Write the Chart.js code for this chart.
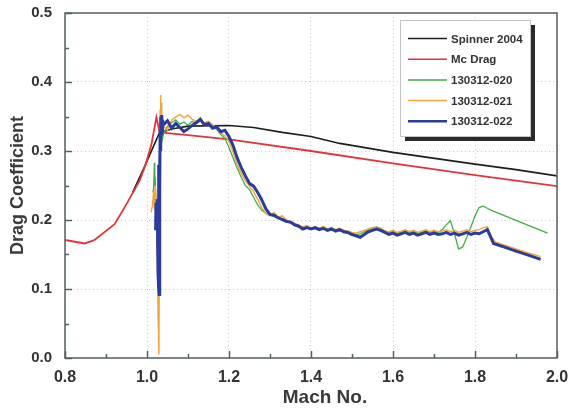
<!DOCTYPE html>
<html>
<head>
<meta charset="utf-8">
<script src="https://cdn.jsdelivr.net/npm/chart.js@4.4.0/dist/chart.umd.min.js"></script>
<style>
  html, body { margin: 0; padding: 0; background: #fff; }
  #myChart { display: block; }
</style>
</head>
<body>
<canvas id="myChart" width="581" height="410"></canvas>
<script>
// axis ticks
const machTicks = [0.8, 1.0, 1.2, 1.4, 1.6, 1.8, 2.0];
const cdTicks = [0.0, 0.1, 0.2, 0.3, 0.4, 0.5];

// reference curves
const spinnerMach = [0.965, 0.99, 1.03, 1.06, 1.1, 1.2, 1.26, 1.33, 1.4, 1.47, 1.6, 1.74, 1.8, 1.9, 2.0];
const spinnerCd   = [0.240, 0.272, 0.326, 0.332, 0.336, 0.337, 0.334, 0.327, 0.321, 0.311, 0.298, 0.286, 0.281, 0.273, 0.264];

const mcdragMach = [0.8, 0.848, 0.872, 0.921, 0.95, 0.982, 0.997, 1.011, 1.023, 1.031, 1.1, 1.2, 1.4, 1.6, 1.8, 2.0];
const mcdragCd   = [0.171, 0.166, 0.171, 0.194, 0.223, 0.257, 0.281, 0.310, 0.349, 0.327, 0.323, 0.317, 0.300, 0.282, 0.265, 0.249];

// common mach grid for the measured runs (1.04 .. 1.84)
const machGrid = [
  1.04, 1.05, 1.06, 1.07, 1.08, 1.09, 1.10, 1.11, 1.12, 1.13,
  1.14, 1.15, 1.16, 1.17, 1.18, 1.19, 1.20, 1.21, 1.22, 1.23,
  1.24, 1.25, 1.26, 1.27, 1.28, 1.29, 1.30, 1.31, 1.32, 1.33,
  1.34, 1.35, 1.36, 1.37, 1.38, 1.39, 1.40, 1.41, 1.42, 1.43,
  1.44, 1.45, 1.46, 1.47, 1.48, 1.49, 1.50, 1.51, 1.52, 1.53,
  1.54, 1.55, 1.56, 1.57, 1.58, 1.59, 1.60, 1.61, 1.62, 1.63,
  1.64, 1.65, 1.66, 1.67, 1.68, 1.69, 1.70, 1.71, 1.72, 1.73,
  1.74, 1.75, 1.76, 1.77, 1.78, 1.79, 1.80, 1.81, 1.82, 1.83,
  1.84
];

// 130312-020
const run020HeadMach = [1.014, 1.016, 1.018, 1.019, 1.020, 1.022, 1.024, 1.027, 1.030, 1.033, 1.036, 1.038];
const run020HeadCd   = [0.240, 0.245, 0.283, 0.250, 0.262, 0.210, 0.190, 0.220, 0.290, 0.310, 0.330, 0.318];
const run020Cd = [
  0.325, 0.336, 0.341, 0.345, 0.339, 0.342, 0.337, 0.343, 0.340, 0.344,
  0.340, 0.338, 0.336, 0.331, 0.324, 0.318, 0.305, 0.290, 0.275, 0.262,
  0.250, 0.244, 0.233, 0.222, 0.214, 0.210, 0.207, 0.205, 0.203, 0.199,
  0.197, 0.196, 0.194, 0.191, 0.190, 0.188, 0.189, 0.187, 0.188, 0.186,
  0.187, 0.185, 0.186, 0.184, 0.185, 0.182, 0.180, 0.179, 0.180, 0.183,
  0.186, 0.188, 0.190, 0.188, 0.184, 0.182, 0.183, 0.181, 0.182, 0.184,
  0.181, 0.183, 0.181, 0.182, 0.184, 0.182, 0.183, 0.182, 0.186, 0.193,
  0.199, 0.180, 0.158, 0.161, 0.175, 0.190, 0.206, 0.218, 0.220, 0.217,
  0.214
];
const run020TailMach = [1.977];
const run020TailCd   = [0.181];

// 130312-021
const run021HeadMach = [1.010, 1.013, 1.016, 1.018, 1.020, 1.022, 1.025, 1.027, 1.029, 1.030, 1.031, 1.032, 1.033, 1.034, 1.035, 1.036, 1.038];
const run021HeadCd   = [0.211, 0.220, 0.240, 0.215, 0.250, 0.230, 0.180, 0.060, 0.005, 0.120, 0.300, 0.360, 0.381, 0.335, 0.370, 0.325, 0.340];
const run021Cd = [
  0.336, 0.330, 0.345, 0.349, 0.353, 0.348, 0.352, 0.346, 0.343, 0.345,
  0.341, 0.343, 0.338, 0.334, 0.326, 0.322, 0.314, 0.298, 0.280, 0.268,
  0.257, 0.249, 0.241, 0.230, 0.218, 0.209, 0.206, 0.211, 0.204, 0.206,
  0.200, 0.198, 0.195, 0.193, 0.190, 0.192, 0.188, 0.190, 0.188, 0.191,
  0.187, 0.189, 0.186, 0.188, 0.185, 0.184, 0.182, 0.181, 0.183, 0.185,
  0.187, 0.189, 0.190, 0.188, 0.184, 0.183, 0.185, 0.182, 0.184, 0.186,
  0.183, 0.185, 0.182, 0.184, 0.186, 0.183, 0.185, 0.183, 0.184, 0.186,
  0.183, 0.185, 0.182, 0.184, 0.186, 0.183, 0.185, 0.186, 0.189, 0.190,
  0.176
];
const run021TailMach = [1.85, 1.88, 1.92, 1.96];
const run021TailCd   = [0.168, 0.162, 0.154, 0.147];

// 130312-022
const run022HeadMach = [1.021, 1.022, 1.023, 1.025, 1.026, 1.027, 1.028, 1.029, 1.030, 1.031, 1.032, 1.033, 1.034, 1.035, 1.036, 1.037, 1.038];
const run022HeadCd   = [0.185, 0.225, 0.190, 0.230, 0.160, 0.120, 0.280, 0.100, 0.092, 0.240, 0.330, 0.300, 0.350, 0.325, 0.352, 0.330, 0.345];
const run022Cd = [
  0.338, 0.344, 0.333, 0.340, 0.334, 0.328, 0.332, 0.337, 0.341, 0.346,
  0.338, 0.340, 0.333, 0.335, 0.328, 0.330, 0.321, 0.308, 0.290, 0.276,
  0.264, 0.253, 0.249, 0.240, 0.229, 0.216, 0.208, 0.207, 0.203, 0.201,
  0.198, 0.197, 0.193, 0.191, 0.187, 0.189, 0.187, 0.189, 0.186, 0.188,
  0.185, 0.187, 0.184, 0.186, 0.183, 0.182, 0.179, 0.177, 0.175, 0.179,
  0.183, 0.185, 0.187, 0.185, 0.182, 0.179, 0.181, 0.178, 0.180, 0.182,
  0.179, 0.181, 0.178, 0.180, 0.182, 0.179, 0.181, 0.179, 0.180, 0.182,
  0.179, 0.181, 0.178, 0.180, 0.182, 0.179, 0.181, 0.180, 0.183, 0.186,
  0.173
];
const run022TailMach = [1.845, 1.87, 1.90, 1.93, 1.96];
const run022TailCd   = [0.166, 0.161, 0.155, 0.149, 0.143];

function pts(xs, ys) {
  return xs.map((x, i) => ({ x: x, y: ys[i] }));
}
function run(headX, headY, gridY, tailX, tailY) {
  return pts(headX, headY).concat(pts(machGrid, gridY), pts(tailX, tailY));
}

const FONT = "'Liberation Sans', Arial, Helvetica, sans-serif";
const AXIS = '#545f63';

// ticks pointing into the plot + frame + legend box + x title
const decor = {
  id: 'decor',
  afterDraw(chart) {
    const ctx = chart.ctx;
    const a = chart.chartArea;
    const xs = chart.scales.x, ys = chart.scales.y;
    ctx.save();
    ctx.strokeStyle = AXIS;
    ctx.lineWidth = 1.5;
    // minor/major ticks
    for (let v = 0.8; v <= 2.0001; v += 0.1) {
      const px = Math.round(xs.getPixelForValue(v)) + 0.5;
      const major = Math.abs(Math.round(v * 5) - v * 5) < 1e-6;
      ctx.beginPath();
      ctx.moveTo(px, a.bottom);
      ctx.lineTo(px, a.bottom - (major ? 7 : 4));
      ctx.stroke();
    }
    for (let v = 0; v <= 0.5001; v += 0.05) {
      const py = Math.round(ys.getPixelForValue(v)) + 0.5;
      const major = Math.abs(Math.round(v * 10) - v * 10) < 1e-6;
      ctx.beginPath();
      ctx.moveTo(a.left, py);
      ctx.lineTo(a.left + (major ? 7 : 4), py);
      ctx.stroke();
    }
    // frame
    ctx.strokeRect(a.left, a.top, a.right - a.left, a.bottom - a.top);

    // legend
    const lx = 400, ly = 20, lw = 130, lh = 116;
    ctx.fillStyle = '#2a2a2a';
    ctx.fillRect(lx + 5, ly + 5, lw, lh);
    ctx.fillStyle = '#ffffff';
    ctx.fillRect(lx, ly, lw, lh);
    ctx.strokeStyle = '#c4c4c4';
    ctx.lineWidth = 1;
    ctx.strokeRect(lx + 0.5, ly + 0.5, lw, lh);
    ctx.font = 'bold 11.5px ' + FONT;
    ctx.textBaseline = 'middle';
    ctx.textAlign = 'left';
    chart.data.datasets.forEach((ds, i) => {
      const y = 38.5 + i * 20.7;
      ctx.strokeStyle = ds.borderColor;
      ctx.lineWidth = ds.borderWidth > 2 ? 2.5 : 1.5;
      ctx.beginPath();
      ctx.moveTo(408, y);
      ctx.lineTo(447, y);
      ctx.stroke();
      ctx.fillStyle = '#333';
      ctx.fillText(ds.label, 451, y + 1);
    });

    // x axis title
    ctx.font = 'bold 19px ' + FONT;
    ctx.fillStyle = '#3a3a3a';
    ctx.textAlign = 'center';
    ctx.fillText('Mach No.', 325, 398);
    ctx.restore();
  }
};

const ctx = document.getElementById('myChart').getContext('2d');
const chart = new Chart(ctx, {
  type: 'scatter',
  data: {
    datasets: [
      { label: 'Spinner 2004', data: pts(spinnerMach, spinnerCd), borderColor: '#1e1e1e', borderWidth: 1.6, order: 4 },
      { label: 'Mc Drag', data: pts(mcdragMach, mcdragCd), borderColor: '#e5333b', borderWidth: 1.8, order: 3 },
      { label: '130312-020', data: run(run020HeadMach, run020HeadCd, run020Cd, run020TailMach, run020TailCd), borderColor: '#45ad48', borderWidth: 1.3, order: 2 },
      { label: '130312-021', data: run(run021HeadMach, run021HeadCd, run021Cd, run021TailMach, run021TailCd), borderColor: '#f0a53a', borderWidth: 1.4, order: 1 },
      { label: '130312-022', data: run(run022HeadMach, run022HeadCd, run022Cd, run022TailMach, run022TailCd), borderColor: '#2b3c9e', borderWidth: 3, order: 0 }
    ].map(d => Object.assign(d, { showLine: true, pointRadius: 0, fill: false, tension: 0 }))
  },
  options: {
    responsive: false,
    devicePixelRatio: 1,
    animation: false,
    layout: { padding: { left: 0, top: 13, right: 24, bottom: 0 } },
    plugins: { legend: { display: false }, tooltip: { enabled: false } },
    scales: {
      x: {
        type: 'linear',
        min: 0.8, max: 2.0,
        afterFit: s => { s.height = 52; s.paddingLeft = 0; s.paddingRight = 0; },
        afterBuildTicks: s => { s.ticks = machTicks.map(v => ({ value: v })); },
        ticks: { callback: v => v.toFixed(1), color: '#333', font: { family: FONT, size: 16, weight: 'bold' }, padding: 10, maxRotation: 0 },
        grid: { color: '#c9c9c9', drawTicks: false, lineWidth: 1 },
        border: { display: false, dash: [1, 3] }
      },
      y: {
        type: 'linear',
        min: 0, max: 0.5,
        afterFit: s => { s.width = 65; s.paddingTop = 0; s.paddingBottom = 0; },
        afterBuildTicks: s => { s.ticks = cdTicks.map(v => ({ value: v })); },
        ticks: { callback: v => v.toFixed(1), color: '#333', font: { family: FONT, size: 15, weight: 'bold' }, padding: 13 },
        grid: { color: '#c9c9c9', drawTicks: false, lineWidth: 1 },
        border: { display: false, dash: [1, 3] },
        title: { display: true, text: 'Drag Coefficient', color: '#3a3a3a', font: { family: FONT, size: 18, weight: 'bold' }, padding: { top: 7, bottom: 0 } }
      }
    }
  },
  plugins: [decor]
});
</script>
</body>
</html>
